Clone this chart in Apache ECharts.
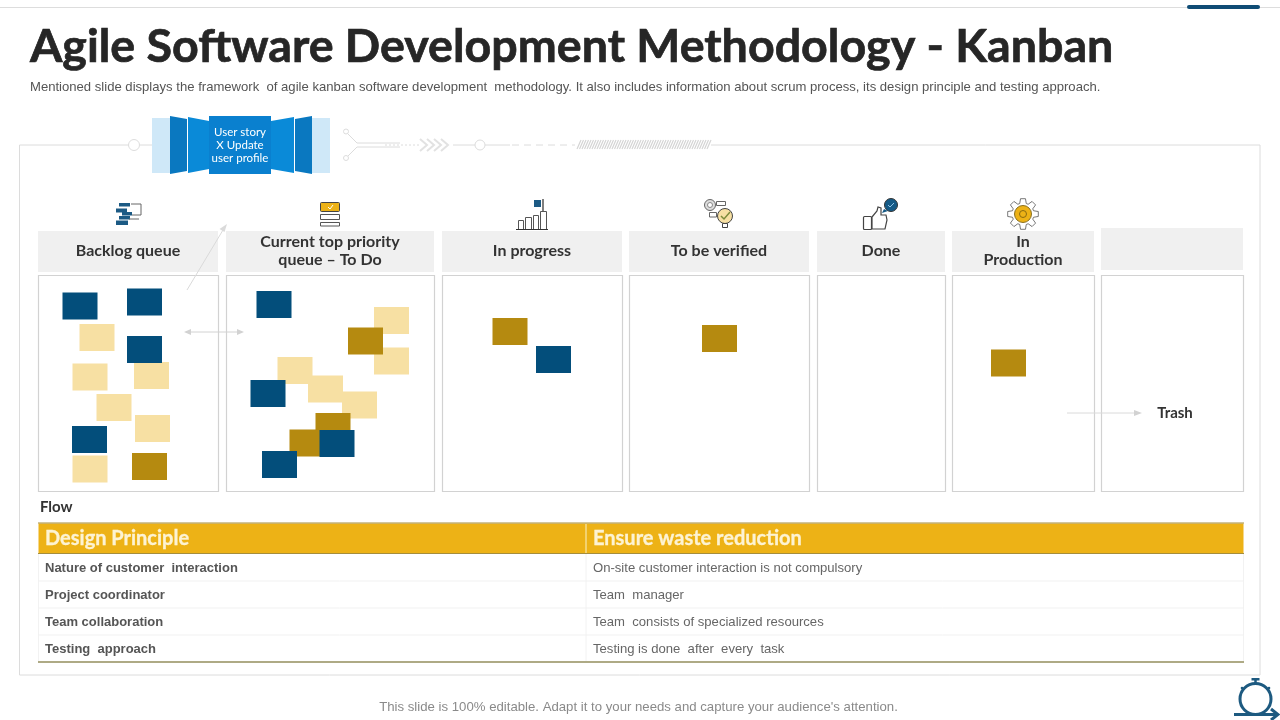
<!DOCTYPE html>
<html lang="en">

<head>
    <meta charset="UTF-8">
    <title>Agile Software Development Methodology - Kanban</title>
    <style>
        html,
        body,
        .container {
            height: 100%;
            margin: 0;
            background: #fff;
        }
    </style>
</head>

<body>
    <div id="container" class="container"></div>
    <script src="https://cdn.jsdelivr.net/npm/echarts@6/dist/echarts.min.js"></script>
    <script>
        var titleText = 'Agile Software Development Methodology - Kanban';
        var subtitleText = 'Mentioned slide displays the framework  of agile kanban software development  methodology. It also includes information about scrum process, its design principle and testing approach.';
        var footerText = "This slide is 100% editable. Adapt it to your needs and capture your audience's attention.";
        var storyLines = ['User story', 'X Update', 'user profile'];

        var columnNames = [['Backlog queue'], ['Current top priority', 'queue \u2013 To Do'], ['In progress'], ['To be verified'], ['Done'], ['In', 'Production'], []];

        // sticky notes, centre of each note on the 1280x720 board
        var blueNotes = [[80, 306], [144.5, 302], [144.5, 349.5], [89.5, 439.5], [274, 304.5], [268, 393.5], [337, 443.5], [279.5, 464.5], [553.5, 359.5]];
        var creamNotes = [[97, 337.5], [90, 377], [151.5, 375.5], [114, 407.5], [152.5, 428.5], [90, 469], [391.5, 320.5], [391.5, 361], [295, 370.5], [325.5, 389], [359.5, 405]];
        var goldNotes = [[149.5, 466.5], [365.5, 341], [333, 426.5], [307, 443], [510, 331.5], [719.5, 338.5], [1008.5, 363]];

        var tableHead = ['Design Principle', 'Ensure waste reduction'];
        var rowNames = ['Nature of customer  interaction', 'Project coordinator', 'Team collaboration', 'Testing  approach'];
        var rowValues = ['On-site customer interaction is not compulsory', 'Team  manager', 'Team  consists of specialized resources', 'Testing is done  after  every  task'];

        var LINE = '#dcdcdc';
        var DARK = '#333333';
        var HEAD = 'Lato, sans-serif';
        var BODY = '"Liberation Sans", Arial, sans-serif';

        var g = [];
        function rect(x, y, w, h, fill, stroke, lw, r) {
            g.push({ type: 'rect', shape: { x: x, y: y, width: w, height: h, r: r || 0 }, style: { fill: fill || 'none', stroke: stroke || 'none', lineWidth: lw || 1 }, silent: true });
        }
        function line(x1, y1, x2, y2, stroke, lw, dash) {
            g.push({ type: 'line', shape: { x1: x1, y1: y1, x2: x2, y2: y2 }, style: { stroke: stroke || LINE, lineWidth: lw || 1, lineDash: dash || null }, silent: true });
        }
        function circle(cx, cy, r, fill, stroke, lw) {
            g.push({ type: 'circle', shape: { cx: cx, cy: cy, r: r }, style: { fill: fill || 'none', stroke: stroke || 'none', lineWidth: lw || 1 }, silent: true });
        }
        function poly(points, fill, stroke, lw) {
            g.push({ type: 'polygon', shape: { points: points }, style: { fill: fill || 'none', stroke: stroke || 'none', lineWidth: lw || 1 }, silent: true });
        }
        function polyline(points, stroke, lw) {
            g.push({ type: 'polyline', shape: { points: points }, style: { fill: 'none', stroke: stroke, lineWidth: lw || 1 }, silent: true });
        }
        function text(str, x, y, font, fill, align, heavy) {
            g.push({ type: 'text', z: 5, style: { text: str, x: x, y: y, font: font, fill: fill, textAlign: align || 'left', textVerticalAlign: 'middle', stroke: heavy ? fill : null, lineWidth: heavy || 0 }, silent: true });
        }

        // top rule and titles
        line(0, 7.5, 1280, 7.5, '#dddddd', 1);
        rect(1187, 5, 73, 4, '#0f4c75', null, 1, 2);
        text(titleText, 30, 47, 'bold 46.6px ' + HEAD, '#262626', 'left', 0.7);
        text(subtitleText, 30, 87.5, '13.1px ' + BODY, '#555555');
        text(footerText, 638.5, 707.5, '13.2px ' + BODY, '#8a8a8a', 'center');

        // outer frame with the timeline running on its top edge
        polyline([[128, 145], [19.5, 145], [19.5, 675], [1260, 675], [1260, 145], [711, 145]], LINE, 1);
        circle(134, 145, 5.5, '#fff', LINE, 1);
        line(140, 145, 152, 145, LINE, 1);

        poly([[152, 118], [170, 118], [170, 173], [152, 173]], '#cfe8f8');
        poly([[170, 116], [187, 119], [187, 171], [170, 174]], '#0a78c0');
        poly([[188, 117], [209, 121], [209, 169], [188, 173]], '#0a8ad8');
        rect(209, 116, 62, 58, '#0a80cf');
        poly([[271, 121], [294, 117], [294, 173], [271, 169]], '#0a8ad8');
        poly([[295, 119], [312, 116], [312, 174], [295, 171]], '#0a78c0');
        poly([[312, 118], [330, 118], [330, 173], [312, 173]], '#cfe8f8');
        storyLines.forEach(function (s, i) {
            text(s, 240, 132 + i * 13, '11.5px ' + HEAD, '#ffffff', 'center');
        });

        circle(346, 131.5, 2.5, '#fff', LINE, 1);
        circle(346, 158, 2.5, '#fff', LINE, 1);
        polyline([[348, 134], [357, 143], [400, 143]], LINE, 1);
        polyline([[348, 156], [357, 147], [400, 147]], LINE, 1);
        line(385, 145, 420, 145, LINE, 1, [2, 2]);
        [420, 427, 434, 441].forEach(function (x) {
            polyline([[x, 139], [x + 7, 145], [x, 151]], '#e2e2e2', 2);
        });
        line(453, 145, 475, 145, LINE, 1);
        circle(480, 145, 5, '#fff', LINE, 1);
        line(485, 145, 510, 145, LINE, 1);
        line(512, 145, 575, 145, LINE, 1, [7, 5]);
        for (var hx = 577; hx < 708; hx += 2.5) {
            line(hx, 149, hx + 4, 140, '#d4d4d4', 1.2);
        }

        // column heads and boxes
        var columnX = [[38, 218], [226, 434], [442, 622], [629, 809], [817, 945], [952, 1094], [1101, 1243]];
        columnX.forEach(function (c, i) {
            var top = i === 6 ? 228 : 231;
            var bottom = i === 6 ? 270 : 272;
            rect(c[0], top, c[1] - c[0], bottom - top, '#f0f0f0');
            rect(c[0] + 0.5, 275.5, c[1] - c[0], 216, '#fff', '#d2d2d2', 1.2);
            var names = columnNames[i];
            var mid = (c[0] + c[1]) / 2;
            names.forEach(function (s, k) {
                var yy = names.length === 1 ? 251 : 242 + k * 18;
                text(s, mid, yy, 'bold 16px ' + HEAD, DARK, 'center');
            });
        });

        // flow arrows
        line(187, 290, 223, 230, '#dadada', 1);
        poly([[227, 224], [219.5, 229], [224.5, 232]], '#dadada');
        line(190, 332, 238, 332, '#d2d2d2', 1);
        poly([[184, 332], [191, 329], [191, 335]], '#d2d2d2');
        poly([[244, 332], [237, 329], [237, 335]], '#d2d2d2');
        line(1067, 413, 1136, 413, '#dadada', 1);
        poly([[1142, 413], [1134, 410], [1134, 416]], '#d2d2d2');
        text('Trash', 1175, 413, 'bold 15px ' + HEAD, DARK, 'center');
        text('Flow', 40, 507, 'bold 15px ' + HEAD, DARK);

        // table
        rect(38.5, 523.5, 1205, 30, '#edb216');
        line(38, 523, 1244, 523, '#a58d3c', 1.2);
        line(38, 553.5, 1244, 553.5, '#a58d3c', 1.2);
        line(586, 524, 586, 553, '#f5dc8e', 1.5);
        line(586, 554, 586, 662, '#f2f2f2', 1);
        line(38.5, 554, 38.5, 662, '#f2f2f2', 1);
        line(1243.5, 554, 1243.5, 662, '#f2f2f2', 1);
        text(tableHead[0], 45, 538.5, 'bold 20px ' + HEAD, '#fdf3d3', 'left', 0.3);
        text(tableHead[1], 593, 538.5, 'bold 20px ' + HEAD, '#fdf3d3', 'left', 0.3);
        var rowY = [568.2, 595.7, 622.7, 649.8];
        [581, 608, 635].forEach(function (y) { line(38, y, 1244, y, '#f1f1f1', 1); });
        rowNames.forEach(function (s, i) {
            text(s, 45, rowY[i], 'bold 13px ' + BODY, '#555555');
            text(rowValues[i], 593, rowY[i], '13.1px ' + BODY, '#666666');
        });
        line(38, 662, 1244, 662, '#aeaa85', 2);

        // backlog icon
        [[119, 203, 11, 3.5], [116, 208.5, 11, 4], [122, 212, 10, 3.5], [119, 216, 11, 3.5], [116, 220.5, 12, 4.5]].forEach(function (b) {
            rect(b[0], b[1], b[2], b[3], '#1c5a84');
        });
        polyline([[131, 204], [141, 204], [141, 215], [132, 215]], '#666', 1);
        line(129, 219, 139, 219, '#666', 1);

        // to do icon
        rect(320.5, 202.5, 19, 9, '#edb216', '#444', 1, 1);
        polyline([[328, 207], [330, 209], [333, 205]], '#fff', 1);
        rect(320.5, 214.5, 19, 5, '#fff', '#555', 1);
        rect(320.5, 222.5, 19, 3.5, '#fff', '#555', 1);

        // in progress icon
        [[518, 220, 5], [525, 217, 6], [533, 215, 5], [540, 211, 6]].forEach(function (b) {
            rect(b[0] + 0.5, b[1] + 0.5, b[2], 229 - b[1], '#fff', '#555', 1);
        });
        line(516, 229.5, 548, 229.5, '#333', 1);
        rect(534, 200, 7, 7, '#1c5a84');
        line(543, 199, 543, 211, '#555', 1.5);

        // verified icon
        circle(710, 205, 5.5, '#ddd', '#666', 1);
        circle(710, 205, 2.5, '#fff', '#888', 1);
        rect(716.5, 201.5, 9, 4, '#fff', '#666', 1);
        rect(709.5, 212.5, 7, 4.5, '#fff', '#666', 1);
        circle(725, 216, 7.5, '#f7e0a3', '#444', 1);
        rect(722.5, 223.5, 5, 4, '#fff', '#444', 1);
        polyline([[721, 216], [724, 219], [730, 212]], '#7c8b3a', 1.5);

        // done icon
        rect(863.5, 216.5, 8, 13, '#fff', '#444', 1.2, 1);
        poly([[872, 217], [877, 211], [878, 207], [881, 208], [881, 215], [886, 215], [887, 220], [885, 229], [872, 229]], '#fff', '#444', 1.2);
        circle(891, 205, 6.5, '#155a86', '#333', 1);
        poly([[884, 209], [882, 213], [888, 211]], '#155a86');
        polyline([[888, 205], [890, 207], [894, 203]], '#8fc3e6', 1);

        // production gear
        var gearPoints = [];
        for (var t = 0; t < 8; t++) {
            var a = t * Math.PI / 4;
            [[-0.3, 11], [-0.16, 15.5], [0.16, 15.5], [0.3, 11]].forEach(function (p) {
                gearPoints.push([1023 + p[1] * Math.sin(a + p[0]), 214 - p[1] * Math.cos(a + p[0])]);
            });
        }
        poly(gearPoints, '#fff', '#555', 0.8);
        circle(1023, 214, 8.5, '#edb216', '#8a7020', 1);
        circle(1023, 214, 3.5, 'none', '#8a6a10', 1);

        // clock icon in the corner
        circle(1255.5, 699, 15.5, '#fff', '#1d5a80', 3);
        rect(1251.5, 678, 8, 2.5, '#1d5a80');
        line(1255.5, 680, 1255.5, 684, '#1d5a80', 2.5);
        circle(1242, 688, 1.3, '#1d5a80');
        circle(1269, 688, 1.3, '#1d5a80');
        line(1234, 714.5, 1276, 714.5, '#1d5a80', 3);
        polyline([[1271, 709], [1278, 714.5], [1271, 720]], '#1d5a80', 3);

        function noteSeries(name, data, color) {
            return {
                name: name,
                type: 'scatter',
                data: data,
                symbol: 'rect',
                symbolSize: [35, 27],
                itemStyle: { color: color, opacity: 1 },
                silent: true,
                animation: false
            };
        }

        var dom = document.getElementById('container');
        var myChart = echarts.init(dom);
        var option = {
            animation: false,
            grid: { left: 0, right: 0, top: 0, bottom: 0 },
            xAxis: { type: 'value', min: 0, max: 1280, show: false },
            yAxis: { type: 'value', min: 0, max: 720, inverse: true, show: false },
            graphic: { elements: g },
            series: [
                noteSeries('Cream', creamNotes, '#f7e0a3'),
                noteSeries('Gold', goldNotes, '#b58a10'),
                noteSeries('Blue', blueNotes, '#034e7b')
            ]
        };
        myChart.setOption(option);
    </script>
</body>

</html>
